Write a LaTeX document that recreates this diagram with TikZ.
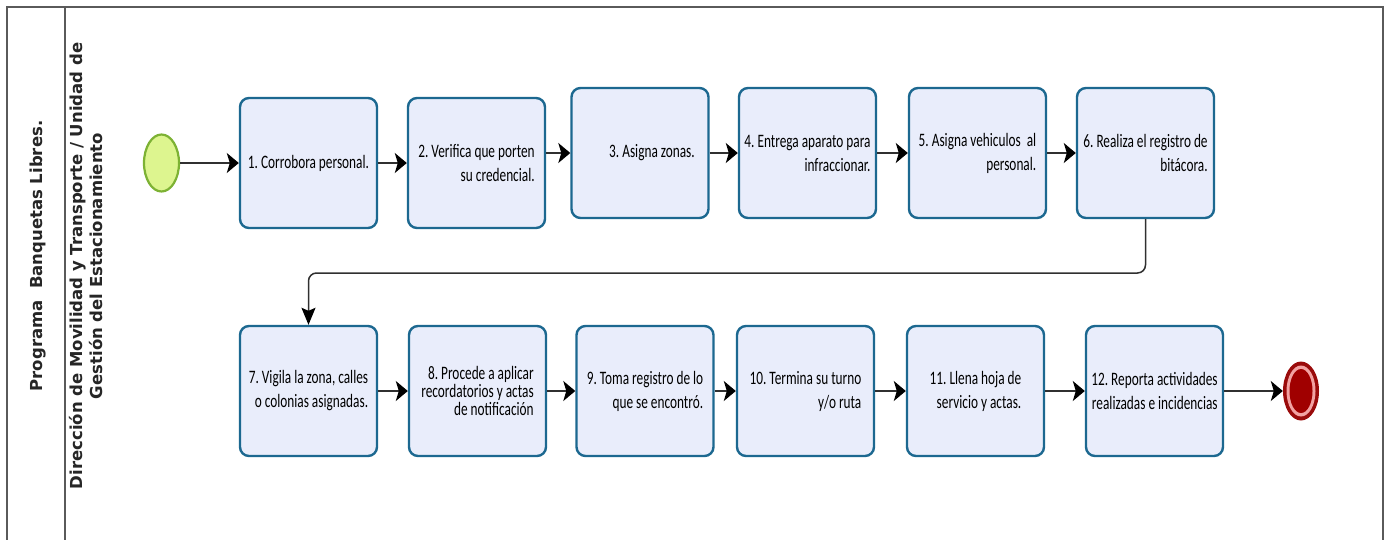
\documentclass[tikz,border=0pt]{standalone}
\usepackage{fontspec}
\newfontfamily\boxfont[FakeStretch=0.7]{Carlito}
\newfontfamily\lanefont{DejaVu Sans}
\usetikzlibrary{arrows.meta,shapes.geometric}

\definecolor{taskline}{HTML}{1C6890}
\definecolor{taskfill}{HTML}{E9EDFB}
\definecolor{startfill}{HTML}{DDF58F}
\definecolor{startline}{HTML}{7DB234}
\definecolor{endouter}{HTML}{9A0B0B}
\definecolor{endring}{HTML}{F2A2A2}
\definecolor{endinner}{HTML}{A00000}
\definecolor{laneline}{HTML}{5A5A5A}
\definecolor{flowline}{HTML}{303030}

\tikzset{
  task/.style={draw=taskline, fill=taskfill, line width=2.4pt, rounded corners=9pt,
    minimum width=137pt, minimum height=130pt, inner sep=0pt,
    font=\boxfont\fontsize{19}{24}\selectfont\frenchspacing, align=right},
  flow/.style={draw=flowline, line width=1.5pt,
    -{Stealth[length=12pt,width=20pt,inset=3pt,color=black]}},
  flowdown/.style={draw=flowline, line width=1.5pt,
    -{Stealth[length=17pt,width=14pt,inset=3pt,color=black]}},
  lanetext/.style={font=\lanefont\bfseries\fontsize{16.5}{20}\selectfont, rotate=90,
    align=center, text=black!85},
}

\begin{document}
\begin{tikzpicture}[x=1pt,y=-1pt]
\useasboundingbox (0,0) rectangle (1390,539);
\fill[white] (0,0) rectangle (1390,539);

% pool and lane frame
\draw[laneline, line width=1.8pt] (7,541) -- (7,7) -- (1383,7) -- (1383,541);
\draw[laneline, line width=1.8pt] (65,7) -- (65,541);
\node[lanetext] (pool) at (38,256) {Programa\ \ Banquetas Libres.};
\node[lanetext] (lane) at (86,266) {Dirección de Movilidad y Transporte / Unidad de\\Gestión del Estacionamiento};

% start event
\node[ellipse, draw=startline, fill=startfill, line width=2.2pt,
  minimum width=35pt, minimum height=57pt, inner sep=0pt] (start) at (161.5,163) {};

% first row of tasks
\node[task] (b1) at (308.5,163) {1. Corrobora personal.};
\node[task] (b2) at (476.5,163) {2. Verifica que porten\\su credencial.};
\node[task] (b3) at (640,153) {\hspace*{24pt}\raisebox{-6pt}{3. Asigna zonas.}};
\node[task] (b4) at (807.5,153) {4. Entrega aparato para\\infraccionar.};
\node[task] (b5) at (977.5,153) {5. Asigna vehiculos\ \ al\\personal.};
\node[task] (b6) at (1145.5,153) {6. Realiza el registro de\\bitácora.};

% second row of tasks
\node[task] (b7) at (308.5,391) {7. Vigila la zona, calles\\o colonias asignadas.};
\node[task, font=\boxfont\fontsize{19}{18}\selectfont\frenchspacing] (b8) at (477.5,391) {8. Procede a aplicar\\recordatorios y actas\\de notificación};
\node[task] (b9) at (645,391) {9. Toma registro de lo\\que se encontró.};
\node[task] (b10) at (805.5,391) {10. Termina su turno\\y/o ruta};
\node[task] (b11) at (975.5,391) {11. Llena hoja de\\servicio y actas.};
\node[task] (b12) at (1154.5,391) {12. Reporta actividades\\realizadas e incidencias};

% end event
\node[ellipse, fill=endouter, minimum width=36pt, minimum height=59pt, inner sep=0pt] (end) at (1301,391) {};
\node[ellipse, fill=endring, minimum width=29pt, minimum height=51pt, inner sep=0pt] (endring) at (end.center) {};
\node[ellipse, fill=endinner, minimum width=23pt, minimum height=44pt, inner sep=0pt] (endcore) at (end.center) {};

% sequence flows
\draw[flow] (start.east) -- (b1.west);
\draw[flow] (b1.east) -- (b2.west);
\draw[flow] (b3.west -| b2.east) -- (b3.west);
\draw[flow] (b3.east) -- (b4.west);
\draw[flow] (b4.east) -- (b5.west);
\draw[flow] (b5.east) -- (b6.west);
\coordinate (turn) at (308.5,273);
\draw[flowdown, rounded corners=8pt] (b6.south) |- (turn) -- (b7.north);
\draw[flow] (b7.east) -- (b8.west);
\draw[flow] (b8.east) -- (b9.west);
\draw[flow] (b9.east) -- (b10.west);
\draw[flow] (b10.east) -- (b11.west);
\draw[flow] (b11.east) -- (b12.west);
\draw[flow] (b12.east) -- (end.west);
\end{tikzpicture}
\end{document}
